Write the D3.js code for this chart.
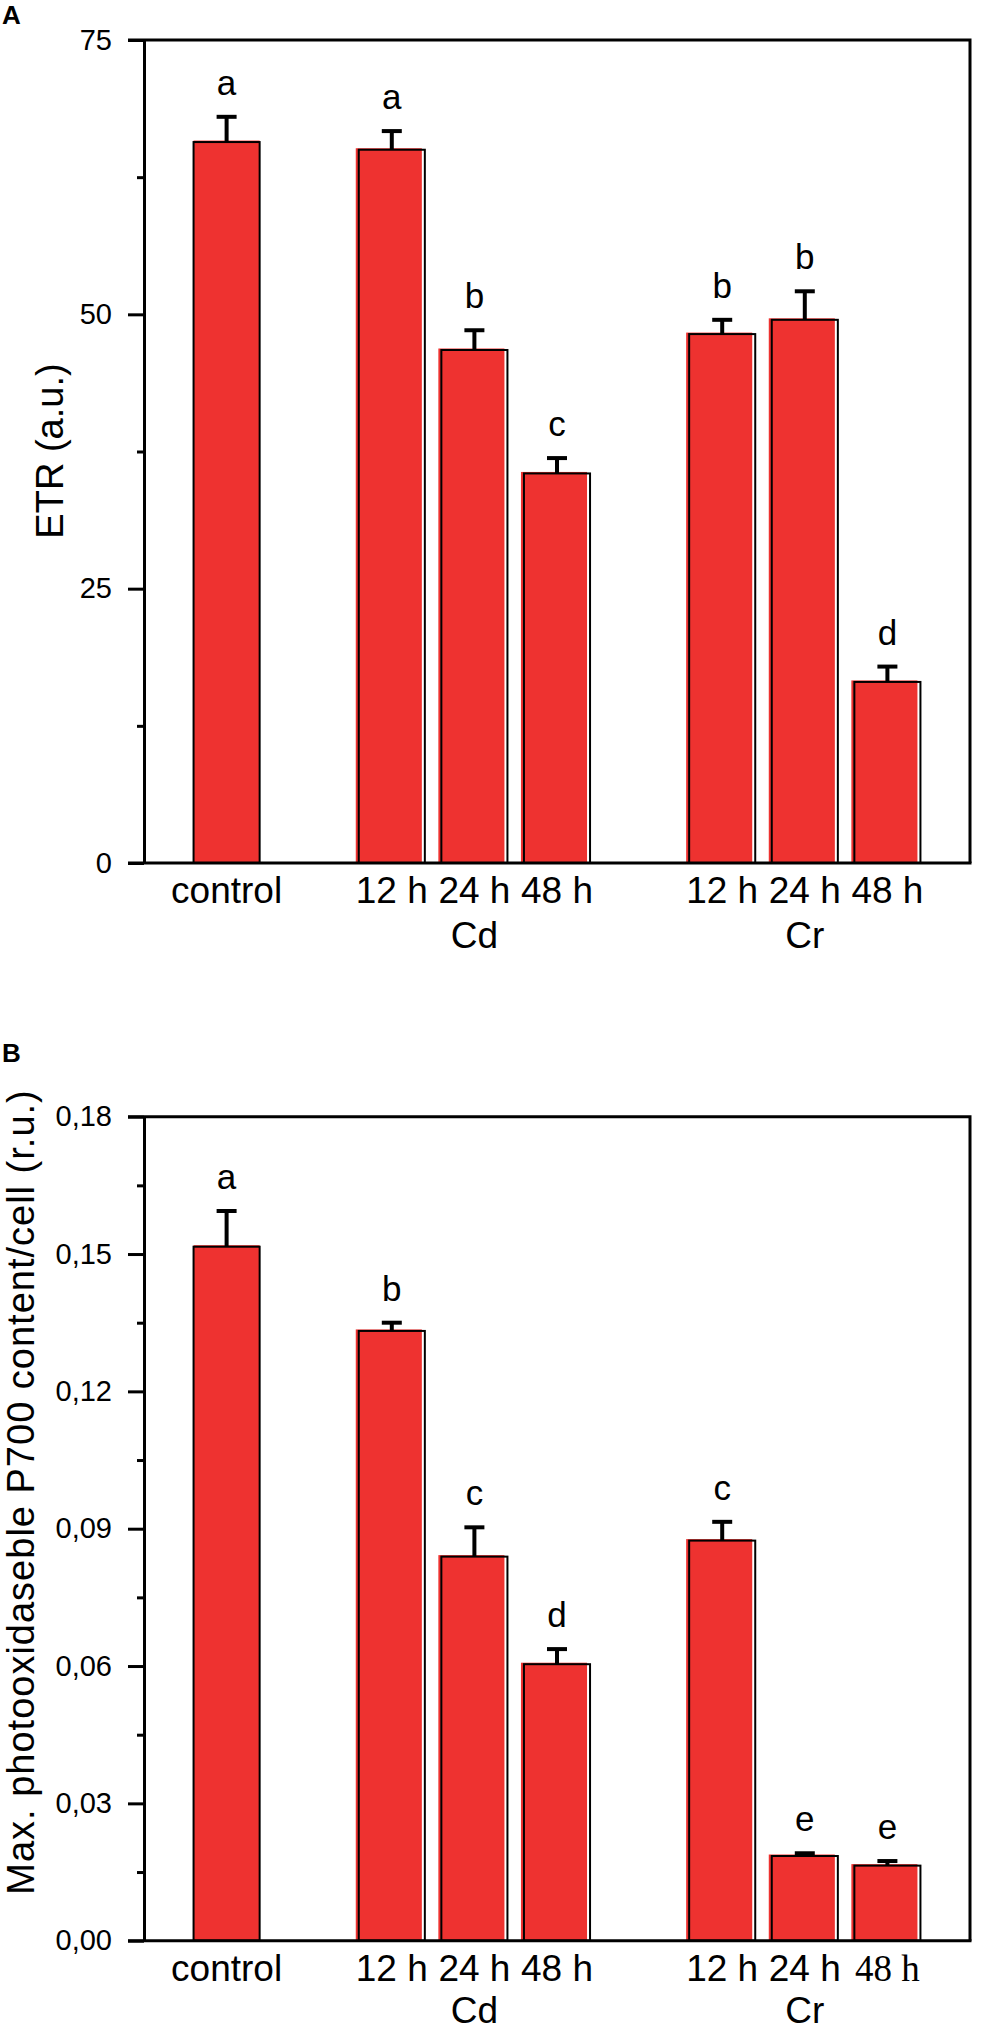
<!DOCTYPE html>
<html>
<head>
<meta charset="utf-8">
<script src="https://cdn.jsdelivr.net/npm/d3@7"></script>
<style>
  html, body { margin: 0; padding: 0; background: #fff; }
  svg { display: block; }
</style>
</head>
<body>
<svg id="chart" width="981" height="2024"></svg>
<script>
// ---- data ----
const categories = ["control", "12 h", "24 h", "48 h", "12 h", "24 h", "48 h"];
const slots = [0, 2, 3, 4, 6, 7, 8];          // bar order on the x axis (gaps between groups)
const groupNames = ["Cd", "Cr"];
const groupSlots = [3, 7];

const etrValues  = [65.7, 65.0, 46.75, 35.5, 48.2, 49.5, 16.5];
const etrErrors  = [2.3, 1.7, 1.8, 1.4, 1.3, 2.6, 1.4];
const etrLetters = ["a", "a", "b", "c", "b", "b", "d"];
const etrTicks   = [0, 25, 50, 75];
const etrMinor   = [12.5, 37.5, 62.5];

const p700Values  = [0.1516, 0.1332, 0.0839, 0.0604, 0.0874, 0.0185, 0.0164];
const p700Errors  = [0.0078, 0.0018, 0.0064, 0.0033, 0.0041, 0.0006, 0.0010];
const p700Letters = ["a", "b", "c", "d", "c", "e", "e"];
const p700Ticks   = [0, 0.03, 0.06, 0.09, 0.12, 0.15, 0.18];
const p700Minor   = [0.015, 0.045, 0.075, 0.105, 0.135, 0.165];

// ---- style ----
const red = "#ee3230";
const ink = "#000";
const SANS = "'Liberation Sans', Arial, sans-serif";
const SERIF = "'Liberation Serif', 'Times New Roman', serif";
const L = 144, R = 970;

const svg = d3.select("#chart");
const commaFmt = d3.formatLocale({ decimal: ",", thousands: ".", grouping: [3], currency: ["", ""] }).format(".2f");

const x = d3.scaleLinear().domain([-1, 9]).range([L, R]);
const barW = (x(1) - x(0)) * 0.8;

function panel(o) {
  const g = svg.append("g");
  const y = d3.scaleLinear().domain(o.domain).range([o.bottom, o.top]);

  // panel letter
  g.append("text").attr("x", 2).attr("y", o.tagY)
    .attr("font-family", SANS).attr("font-weight", 700).attr("font-size", 26)
    .text(o.tag);

  // bars
  o.values.forEach((v, i) => {
    const cx = x(slots[i]);
    const dx = i === 0 ? 0 : -3;
    g.append("rect")
      .attr("x", cx - barW / 2 + dx).attr("y", y(v) - 1.5)
      .attr("width", barW).attr("height", y(0) - y(v) + 1.5)
      .attr("fill", red);
    g.append("rect")
      .attr("x", cx - barW / 2).attr("y", y(v))
      .attr("width", barW).attr("height", y(0) - y(v))
      .attr("fill", "none").attr("stroke", ink).attr("stroke-width", 2);
    // error bar
    const ye = y(v + o.errors[i]);
    g.append("line").attr("x1", cx).attr("x2", cx).attr("y1", y(v)).attr("y2", ye)
      .attr("stroke", ink).attr("stroke-width", 4);
    g.append("line").attr("x1", cx - 10).attr("x2", cx + 10).attr("y1", ye).attr("y2", ye)
      .attr("stroke", ink).attr("stroke-width", 4);
    // significance letter
    g.append("text").attr("x", cx).attr("y", ye - 22)
      .attr("text-anchor", "middle").attr("font-family", SANS).attr("font-size", 35)
      .text(o.letters[i]);
    // category label
    g.append("text").attr("x", cx).attr("y", o.bottom + 40)
      .attr("text-anchor", "middle")
      .attr("font-family", (o.serifLast && i === o.values.length - 1) ? SERIF : SANS)
      .attr("font-size", 37)
      .text(categories[i]);
  });

  groupNames.forEach((n, i) => {
    g.append("text").attr("x", x(groupSlots[i])).attr("y", o.bottom + o.groupDy)
      .attr("text-anchor", "middle").attr("font-family", SANS).attr("font-size", 37)
      .text(n);
  });

  // frame: top and right
  g.append("path")
    .attr("d", `M${L - 16},${o.top}H${R}V${o.bottom}`)
    .attr("fill", "none").attr("stroke", ink).attr("stroke-width", 3);
  g.append("line").attr("x1", L - 16).attr("x2", R + 1.5).attr("y1", o.bottom).attr("y2", o.bottom)
    .attr("stroke", ink).attr("stroke-width", 3);

  // y axis
  const ax = g.append("g").attr("transform", `translate(${L},0)`)
    .call(d3.axisLeft(y).tickValues(o.ticks).tickSize(16).tickSizeOuter(0)
      .tickPadding(16).tickFormat(o.fmt));
  ax.selectAll("path, line").attr("stroke", ink).attr("stroke-width", 3);
  ax.selectAll("text").attr("font-family", SANS).attr("font-size", 29).attr("fill", ink);

  const mn = g.append("g").attr("transform", `translate(${L},0)`)
    .call(d3.axisLeft(y).tickValues(o.minor).tickSize(7).tickFormat(""));
  mn.select(".domain").remove();
  mn.selectAll("line").attr("stroke", ink).attr("stroke-width", 3);

  // y title
  g.append("text")
    .attr("transform", `translate(${o.titleX},${o.titleY}) rotate(-90)`)
    .attr("text-anchor", "middle").attr("font-family", SANS).attr("font-size", 38)
    .attr("letter-spacing", o.titleSpacing || 0)
    .text(o.title);
}

panel({
  tag: "A", tagY: 24, top: 40, bottom: 863, domain: [0, 75], groupDy: 85,
  values: etrValues, errors: etrErrors, letters: etrLetters,
  ticks: etrTicks, minor: etrMinor, fmt: d3.format("d"),
  title: "ETR (a.u.)", titleX: 63, titleY: 451
});

panel({
  tag: "B", tagY: 1062, top: 1116.7, bottom: 1940.7, domain: [0, 0.18], groupDy: 82,
  values: p700Values, errors: p700Errors, letters: p700Letters,
  ticks: p700Ticks, minor: p700Minor, fmt: commaFmt,
  title: "Max. photooxidaseble P700 content/cell (r.u.)", titleX: 34, titleY: 1492,
  titleSpacing: 1, serifLast: true
});
</script>
</body>
</html>
